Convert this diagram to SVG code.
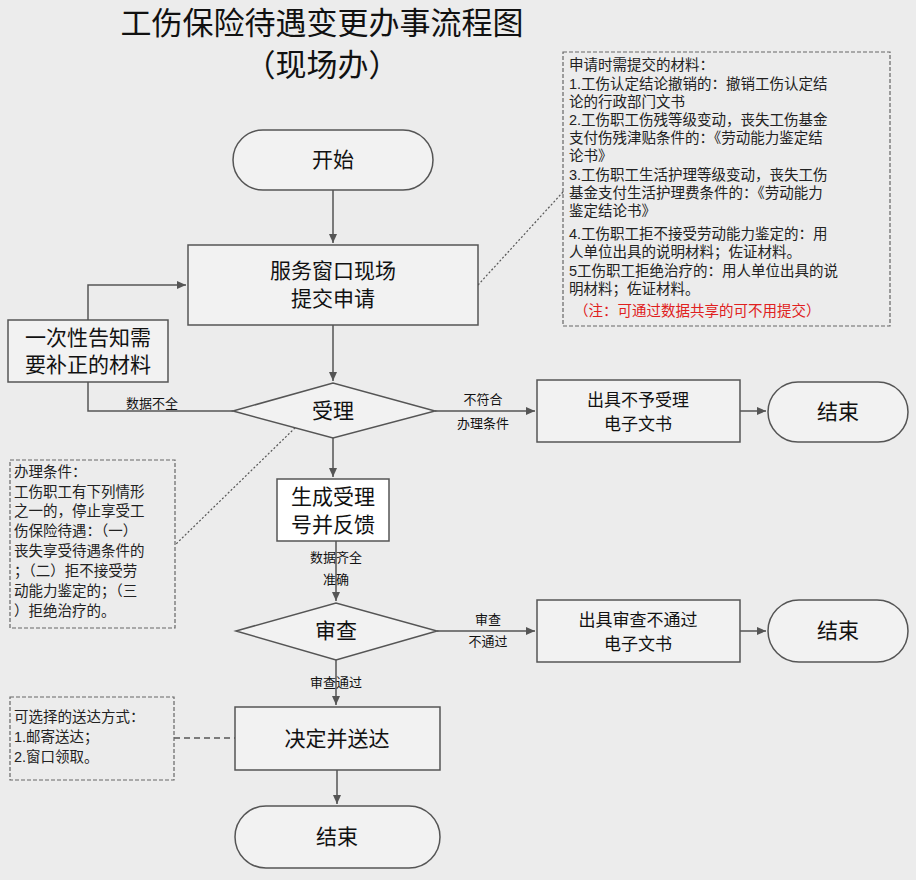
<svg xmlns="http://www.w3.org/2000/svg" width="916" height="880" viewBox="0 0 916 880">
<style>
.n{fill:#f2f2f2;stroke:#555;stroke-width:1.5}
.t{font-family:"Liberation Sans","Noto Sans CJK SC",sans-serif;fill:#111;text-anchor:middle}
.big{font-size:21px}
.lb{font-size:13px}
.nt{font-family:"Liberation Sans","Noto Sans CJK SC",sans-serif;font-size:14.5px;fill:#222}
.box{fill:none;stroke:#666;stroke-width:1.2;stroke-dasharray:4 2}
.c{fill:none;stroke:#555;stroke-width:1.5}
.d{fill:none;stroke:#555;stroke-width:1.2;stroke-dasharray:2 2}
</style>
<defs><marker id="a" markerWidth="10" markerHeight="10" refX="9" refY="5" orient="auto" markerUnits="userSpaceOnUse"><path d="M0,1 L9,5 L0,9 Z" fill="#555"/></marker></defs>
<rect width="916" height="880" fill="#ececec"/>
<g id="title"><text class="t" x="322" y="34" font-size="31">工伤保险待遇变更办事流程图</text><text class="t" x="322" y="76" font-size="31">（现场办）</text></g>
<g id="connectors">
<path class="c" d="M333,190 V243" marker-end="url(#a)"/>
<path class="c" d="M333,325 V381" marker-end="url(#a)"/>
<path class="c" d="M233,411 H88 V382"/>
<path class="c" d="M88,320 V285 H186" marker-end="url(#a)"/>
<path class="c" d="M435,411 H535" marker-end="url(#a)"/>
<path class="c" d="M740,411 H766" marker-end="url(#a)"/>
<path class="c" d="M333,438 V477" marker-end="url(#a)"/>
<path class="c" d="M336,541 V601" marker-end="url(#a)"/>
<path class="c" d="M437,631 H535" marker-end="url(#a)"/>
<path class="c" d="M740,631 H766" marker-end="url(#a)"/>
<path class="c" d="M336,660 V705" marker-end="url(#a)"/>
<path class="c" d="M337,770 V804" marker-end="url(#a)"/>
<path class="d" d="M478,285 L563,192"/>
<path class="d" d="M298,425 L175,545"/>
<path class="c" d="M174,738 H235" stroke-dasharray="6 4"/>
<text class="t lb" x="152" y="408">数据不全</text>
<text class="t lb" x="483" y="404">不符合</text><text class="t lb" x="483" y="428">办理条件</text>
<text class="t lb" x="336" y="562">数据齐全</text><text class="t lb" x="336" y="584">准确</text>
<text class="t lb" x="488" y="624">审查</text><text class="t lb" x="488" y="646">不通过</text>
<text class="t lb" x="336" y="687">审查通过</text>
</g>
<g id="start"><rect class="n" x="233" y="130" width="200" height="60" rx="30"/><text class="t big" x="333" y="167">开始</text></g>
<g id="apply"><rect class="n" x="188" y="245" width="290" height="80"/><text class="t big" x="333" y="278">服务窗口现场</text><text class="t big" x="333" y="306">提交申请</text></g>
<g id="notify"><rect class="n" x="8" y="320" width="160" height="62"/><text class="t big" x="88" y="345">一次性告知需</text><text class="t big" x="88" y="372">要补正的材料</text></g>
<g id="accept"><polygon class="n" points="233,411 333,383 435,411 333,438"/><text class="t big" x="333" y="418">受理</text></g>
<g id="reject1"><rect class="n" x="537" y="380" width="203" height="62"/><text class="t" font-size="17" x="638" y="406">出具不予受理</text><text class="t" font-size="17" x="638" y="430">电子文书</text></g>
<g id="end1"><rect class="n" x="768" y="382" width="140" height="60" rx="30"/><text class="t big" x="838" y="419">结束</text></g>
<g id="gen"><rect fill="#fff" stroke="#555" stroke-width="1.5" x="277" y="479" width="112" height="62"/><text class="t big" x="333" y="504">生成受理</text><text class="t big" x="333" y="532">号并反馈</text></g>
<g id="review"><polygon class="n" points="236,631 336,603 437,631 336,660"/><text class="t big" x="336" y="638">审查</text></g>
<g id="reject2"><rect class="n" x="537" y="600" width="203" height="62"/><text class="t" font-size="17" x="638" y="626">出具审查不通过</text><text class="t" font-size="17" x="638" y="650">电子文书</text></g>
<g id="end2"><rect class="n" x="768" y="600" width="140" height="62" rx="31"/><text class="t big" x="838" y="638">结束</text></g>
<g id="decide"><rect class="n" x="235" y="707" width="205" height="63"/><text class="t big" x="337" y="746">决定并送达</text></g>
<g id="end3"><rect class="n" x="235" y="806" width="205" height="62" rx="31"/><text class="t big" x="337" y="844">结束</text></g>
<g id="note1"><rect class="box" x="563" y="52" width="327" height="274"/>
<text class="nt" x="569" y="70">申请时需提交的材料：</text>
<text class="nt" x="569" y="89">1.工伤认定结论撤销的：撤销工伤认定结</text>
<text class="nt" x="569" y="107">论的行政部门文书</text>
<text class="nt" x="569" y="125">2.工伤职工伤残等级变动，丧失工伤基金</text>
<text class="nt" x="569" y="143">支付伤残津贴条件的：《劳动能力鉴定结</text>
<text class="nt" x="569" y="161">论书》</text>
<text class="nt" x="569" y="180">3.工伤职工生活护理等级变动，丧失工伤</text>
<text class="nt" x="569" y="198">基金支付生活护理费条件的：《劳动能力</text>
<text class="nt" x="569" y="216">鉴定结论书》</text>
<text class="nt" x="569" y="239">4.工伤职工拒不接受劳动能力鉴定的：用</text>
<text class="nt" x="569" y="257">人单位出具的说明材料；佐证材料。</text>
<text class="nt" x="569" y="276">5工伤职工拒绝治疗的：用人单位出具的说</text>
<text class="nt" x="569" y="294">明材料；佐证材料。</text>
<text class="nt" x="574" y="316" style="fill:#e02020">（注：可通过数据共享的可不用提交）</text></g>
<g id="note2"><rect class="box" x="10" y="460" width="165" height="168"/>
<text class="nt" x="14" y="477">办理条件：</text>
<text class="nt" x="14" y="497">工伤职工有下列情形</text>
<text class="nt" x="14" y="516">之一的，停止享受工</text>
<text class="nt" x="14" y="536">伤保险待遇：（一）</text>
<text class="nt" x="14" y="556">丧失享受待遇条件的</text>
<text class="nt" x="14" y="576">；（二）拒不接受劳</text>
<text class="nt" x="14" y="596">动能力鉴定的；（三</text>
<text class="nt" x="14" y="616">）拒绝治疗的。</text></g>
<g id="note3"><rect class="box" x="10" y="697" width="164" height="83"/>
<text class="nt" x="14" y="722">可选择的送达方式：</text>
<text class="nt" x="14" y="742">1.邮寄送达；</text>
<text class="nt" x="14" y="762">2.窗口领取。</text></g>
</svg>
